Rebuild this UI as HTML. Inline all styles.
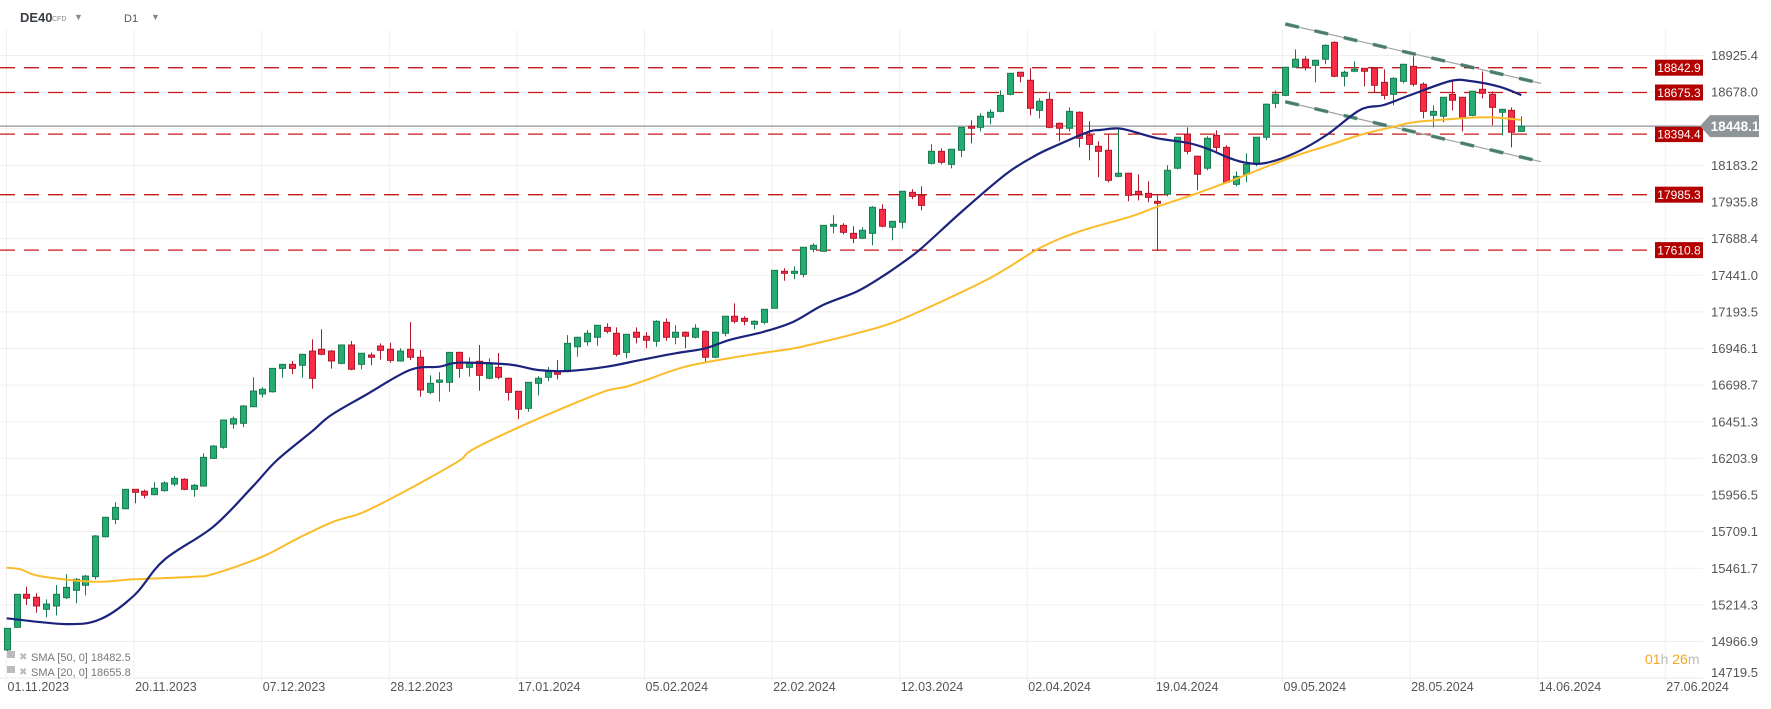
<!DOCTYPE html>
<html><head><meta charset="utf-8">
<style>
html,body{margin:0;padding:0;background:#fff;}
body{width:1771px;height:704px;overflow:hidden;font-family:"Liberation Sans",Arial,sans-serif;}
svg text{font-family:"Liberation Sans",Arial,sans-serif;}
</style></head>
<body>
<svg id="chart" width="1771" height="704" xmlns="http://www.w3.org/2000/svg">
  <g id="grid"></g>
  <g id="levels"></g>
  <g id="channel"></g>
  <g id="candles"></g>
  <g id="smas"></g>
  <g id="yaxis"></g>
  <g id="xaxis"></g>
  <g>
    <text x="20" y="22" font-size="13" font-weight="bold" fill="#3a3f45">DE40</text>
    <text x="52" y="21" font-size="7" fill="#888">CFD</text>
    <text x="74" y="20" font-size="9" fill="#888">▼</text>
    <text x="124" y="22" font-size="11" fill="#555">D1</text>
    <text x="151" y="20" font-size="9" fill="#888">▼</text>
  </g>
  <g>
    <rect x="7" y="651" width="8" height="7" fill="#bbb"/>
    <text x="19" y="660" font-size="10" fill="#bbb">✖</text>
    <text x="31" y="661" font-size="11" fill="#777">SMA [50, 0] 18482.5</text>
    <rect x="7" y="666" width="8" height="7" fill="#bbb"/>
    <text x="19" y="675" font-size="10" fill="#bbb">✖</text>
    <text x="31" y="676" font-size="11" fill="#777">SMA [20, 0] 18655.8</text>
  </g>
  <g>
    <text x="1645" y="664" font-size="14" fill="#f5a623">01<tspan fill="#bbb">h</tspan> 26<tspan fill="#bbb">m</tspan></text>
  </g>
</svg>
<script>
const opens=[14910,15063,15286,15266,15185,15207,15263,15313,15347,15405,15675,15792,15864,15995,15982,15959,15986,16031,16063,15995,16017,16204,16279,16436,16441,16553,16639,16654,16812,16839,16833,16929,16941,16929,16846,16970,16839,16902,16963,16941,16862,16941,16887,16650,16718,16718,16920,16819,16860,16745,16819,16745,16657,16542,16711,16752,16790,16790,16958,16992,17022,17089,17049,16920,17056,17029,16995,17123,17022,17056,17022,17062,16887,17049,17164,17150,17110,17123,17218,17468,17454,17447,17616,17603,17772,17778,17724,17691,17724,17886,17765,17799,18001,17981,18197,18278,18190,18285,18447,18440,18508,18548,18663,18812,18758,18555,18629,18467,18434,18542,18386,18312,18285,18109,18130,18008,17994,17940,17988,18164,18393,18245,18164,18386,18305,18055,18123,18197,18373,18602,18656,18846,18900,18859,18900,19014,18785,18819,18839,18839,18744,18663,18751,18852,18731,18521,18515,18663,18643,18521,18697,18663,18542,18555,18413];
const highs=[15058,15286,15337,15293,15252,15349,15421,15396,15416,15686,15810,15909,15995,15995,15993,16044,16050,16085,16070,16031,16238,16294,16465,16486,16564,16752,16684,16815,16842,16862,16910,17008,17076,16936,16972,16997,16916,16918,16981,16985,16948,17125,16936,16765,16787,16922,16925,16887,16970,16880,16916,16750,16660,16720,16760,16821,16868,17037,17025,17071,17105,17116,17089,17045,17089,17056,17137,17150,17103,17062,17110,17069,17060,17166,17251,17164,17137,17213,17476,17488,17501,17632,17657,17780,17846,17792,17772,17765,17907,17920,17808,18010,18022,18042,18326,18298,18295,18442,18488,18535,18562,18690,18807,18815,18839,18636,18677,18474,18575,18548,18481,18346,18393,18434,18133,18123,18076,17981,18184,18375,18440,18248,18380,18420,18319,18143,18265,18375,18602,18690,18848,18967,18920,18896,19001,19021,18825,18886,18840,18840,18832,18778,18868,18920,18744,18589,18645,18751,18645,18686,18818,18684,18565,18575,18515];
const lows=[14889,15060,15214,15162,15131,15144,15254,15225,15279,15387,15670,15759,15860,15901,15934,15955,15980,16017,15990,15945,16013,16200,16269,16404,16414,16553,16616,16648,16749,16772,16749,16675,16900,16810,16839,16799,16806,16833,16871,16850,16857,16868,16621,16637,16587,16654,16749,16756,16661,16738,16738,16594,16468,16519,16630,16725,16738,16786,16891,16965,16965,17049,16893,16880,16981,16948,16958,16999,16975,16948,17015,16857,16880,17029,17116,17103,17076,17110,17215,17404,17414,17427,17596,17600,17724,17718,17657,17686,17643,17765,17677,17758,17954,17880,18190,18190,18163,18238,18332,18413,18461,18542,18656,18744,18521,18501,18434,18346,18413,18305,18218,18103,18069,18103,17941,17947,17934,17605,17974,18157,18258,18015,18150,18265,18062,18042,18069,18177,18353,18569,18650,18844,18825,18744,18866,18778,18717,18812,18717,18677,18629,18589,18738,18717,18501,18440,18474,18555,18413,18515,18636,18454,18386,18305,18410];
const closes=[15056,15286,15259,15207,15220,15286,15333,15387,15409,15680,15806,15873,15995,15975,15955,16002,16038,16069,15995,16022,16211,16287,16463,16472,16558,16659,16671,16812,16839,16812,16907,16745,16907,16862,16970,16806,16914,16887,16934,16866,16929,16887,16666,16711,16733,16920,16812,16846,16765,16846,16752,16650,16536,16718,16745,16790,16772,16981,17022,17049,17103,17062,16907,17042,17022,17002,17130,17022,17056,17029,17083,16887,17056,17164,17130,17130,17130,17211,17474,17454,17468,17630,17643,17778,17785,17731,17691,17745,17900,17772,17805,18008,17974,17913,18278,18204,18292,18440,18434,18515,18542,18656,18805,18785,18569,18616,18440,18434,18548,18366,18325,18278,18082,18130,17981,17988,17967,17927,18150,18373,18278,18123,18366,18305,18069,18109,18190,18373,18596,18663,18846,18900,18846,18893,18994,18785,18812,18832,18819,18724,18656,18771,18866,18731,18548,18548,18643,18623,18508,18684,18670,18575,18562,18407,18448];
const sma20Idx=[0,6,9.5,13,16,21,25,27.5,31,33,36.5,41,44,46,51,54,57,61,64.4,68,71,73.5,77,80,83,86.4,89,91,93,97.3,101.7,104.7,107,110,111.2,113,114.6,117,120,122,124.4,126,128,131,134.2,137.6,140,142.7,146.8,148.8,151.8,154];
const sma20Val=[15124,15085,15117,15281,15518,15742,16013,16193,16384,16497,16632,16801,16823,16850,16839,16801,16794,16823,16868,16914,16947,17004,17060,17127,17240,17330,17431,17522,17623,17882,18129,18253,18325,18410,18422,18433,18410,18366,18336,18298,18231,18201,18199,18267,18388,18557,18591,18658,18753,18753,18714,18658];
const sma50Idx=[0,1.4,3.4,8.8,12.9,19,21,26,29.8,33.2,36,39,42,46,47.4,52.2,56.9,61,63,65,69,74,77,80,83,86.4,90.8,99.6,105,109,114.2,117,121,124.7,128,131.3,134.2,137.6,141,143.1,146.4,150.5,154];
const sma50Val=[15466,15455,15409,15371,15387,15405,15423,15540,15671,15776,15833,15930,16036,16188,16265,16418,16553,16661,16688,16733,16823,16887,16918,16947,16992,17049,17139,17409,17623,17735,17836,17904,17994,18084,18172,18253,18314,18388,18444,18474,18494,18508,18490];
const levelPrices=[18842.9,18675.3,18394.4,17985.3,17610.8];
const currentPrice=18448.1;
const yTicks=[18925.4,18678.0,18183.2,17935.8,17688.4,17441.0,17193.5,16946.1,16698.7,16451.3,16203.9,15956.5,15709.1,15461.7,15214.3,14966.9,14719.5];
const gridTicks=[18925.4,18678.0,18430.6,18183.2,17935.8,17688.4,17441.0,17193.5,16946.1,16698.7,16451.3,16203.9,15956.5,15709.1,15461.7,15214.3,14966.9];
const dateLabels=["01.11.2023","20.11.2023","07.12.2023","28.12.2023","17.01.2024","05.02.2024","22.02.2024","12.03.2024","02.04.2024","19.04.2024","09.05.2024","28.05.2024","14.06.2024","27.06.2024"];
const channelUpperIdx=[130,156], channelUpperVal=[19138,18737];
const channelLowerIdx=[130,156], channelLowerVal=[18613,18208];

const NS="http://www.w3.org/2000/svg";
const PLOT_R=1703, PLOT_B=678;
function y(p){return 67.7+(18842.9-p)*0.14805;}
function x(i){return 6.7+i*9.835;}
function mk(tag,attrs,parent){const e=document.createElementNS(NS,tag);for(const k in attrs)e.setAttribute(k,attrs[k]);parent.appendChild(e);return e;}

const grid=document.getElementById('grid');
gridTicks.forEach(t=>{const l=mk('line',{x1:0,x2:PLOT_R,y1:y(t),y2:y(t),stroke:'#efefef','stroke-width':1},grid);

});
{const l=mk('line',{x1:0,x2:PLOT_R,y1:PLOT_B,y2:PLOT_B,stroke:'#e8e8e8','stroke-width':1},grid);

}
const xaxis=document.getElementById('xaxis');
dateLabels.forEach((d,k)=>{const gx=6.5+k*127.6;
const l=mk('line',{x1:gx,x2:gx,y1:30,y2:PLOT_B+4,stroke:'#efefef','stroke-width':1},grid);


const t=mk('text',{x:gx+1,y:691,'font-size':12.5,fill:'#555'},xaxis);t.textContent=d;

});

const yaxis=document.getElementById('yaxis');
yTicks.forEach(t=>{let yy=y(t)+4.5; if(t<14800) yy=677;
const e=mk('text',{x:1711,y:yy,'font-size':13,fill:'#555'},yaxis);e.textContent=t.toFixed(1);

});

const lv=document.getElementById('levels');
levelPrices.forEach(p=>{const yy=y(p);
const l=mk('line',{x1:0,x2:1655,y1:yy,y2:yy,stroke:'#c41a1a','stroke-width':1.3,'stroke-dasharray':'15 9'},lv);


const r=mk('rect',{x:1655,y:yy-8,width:48,height:16,fill:'#b30000'},lv);


const t=mk('text',{x:1679,y:yy+4.5,'font-size':12,fill:'#fff','text-anchor':'middle'},lv);t.textContent=p.toFixed(1);

});
{const yy=y(currentPrice);
const l=mk('line',{x1:0,x2:1700,y1:yy,y2:yy,stroke:'#8e9599','stroke-width':1.3},lv);


const pg=mk('polygon',{points:`1700,${yy} 1710,${yy-11} 1759,${yy-11} 1759,${yy+11} 1710,${yy+11}`,fill:'#8e9599'},lv);


const t=mk('text',{x:1735,y:yy+5,'font-size':13.5,'font-weight':'bold',fill:'#fff','text-anchor':'middle'},lv);t.textContent=currentPrice.toFixed(1);

}

const ch=document.getElementById('channel');
[[channelUpperIdx,channelUpperVal,'channel-upper-line'],[channelLowerIdx,channelLowerVal,'channel-lower-line']].forEach(([ix,vv,nm])=>{
const a={x1:x(ix[0]),y1:y(vv[0]),x2:x(ix[1]),y2:y(vv[1])};
const l=mk('line',Object.assign({stroke:'#a0a4a8','stroke-width':1.2},a),ch);


const d=mk('line',Object.assign({stroke:'#2e6b55','stroke-width':3.5,'stroke-dasharray':'14 16','stroke-opacity':0.8},a),ch);

});

const cg=document.getElementById('candles');
const n=Math.min(opens.length,highs.length,lows.length,closes.length);
for(let i=0;i<n;i++){
const up=closes[i]>=opens[i];const cx=Math.round(x(i))+0.5;
const fill=up?'#25ac72':'#fa2b45', st=up?'#1b7a50':'#b0182c';
const w=mk('line',{x1:cx,x2:cx,y1:y(highs[i]),y2:y(lows[i]),stroke:st,'stroke-width':1},cg);


const top=y(Math.max(opens[i],closes[i])),bot=y(Math.min(opens[i],closes[i]));
const b=mk('rect',{x:cx-3,y:top,width:6,height:Math.max(1,bot-top),fill:fill,stroke:st,'stroke-width':1},cg);

}

const sg=document.getElementById('smas');
function path(ix,vv){
const P=ix.map((k,j)=>[x(k),y(vv[j])]);
let d='M'+P[0][0].toFixed(1)+','+P[0][1].toFixed(1);
for(let j=0;j<P.length-1;j++){
const p0=P[Math.max(0,j-1)],p1=P[j],p2=P[j+1],p3=P[Math.min(P.length-1,j+2)];
const c1x=p1[0]+(p2[0]-p0[0])/6,c1y=p1[1]+(p2[1]-p0[1])/6;
const c2x=p2[0]-(p3[0]-p1[0])/6,c2y=p2[1]-(p3[1]-p1[1])/6;
d+=` C${c1x.toFixed(1)},${c1y.toFixed(1)} ${c2x.toFixed(1)},${c2y.toFixed(1)} ${p2[0].toFixed(1)},${p2[1].toFixed(1)}`;}
return d;}
{const p=mk('path',{d:path(sma50Idx,sma50Val),fill:'none',stroke:'#fbbc2a','stroke-width':2,'stroke-linejoin':'round'},sg);


const q=mk('path',{d:path(sma20Idx,sma20Val),fill:'none',stroke:'#1c237d','stroke-width':2.2,'stroke-linejoin':'round'},sg);

}
</script>
</body></html>
